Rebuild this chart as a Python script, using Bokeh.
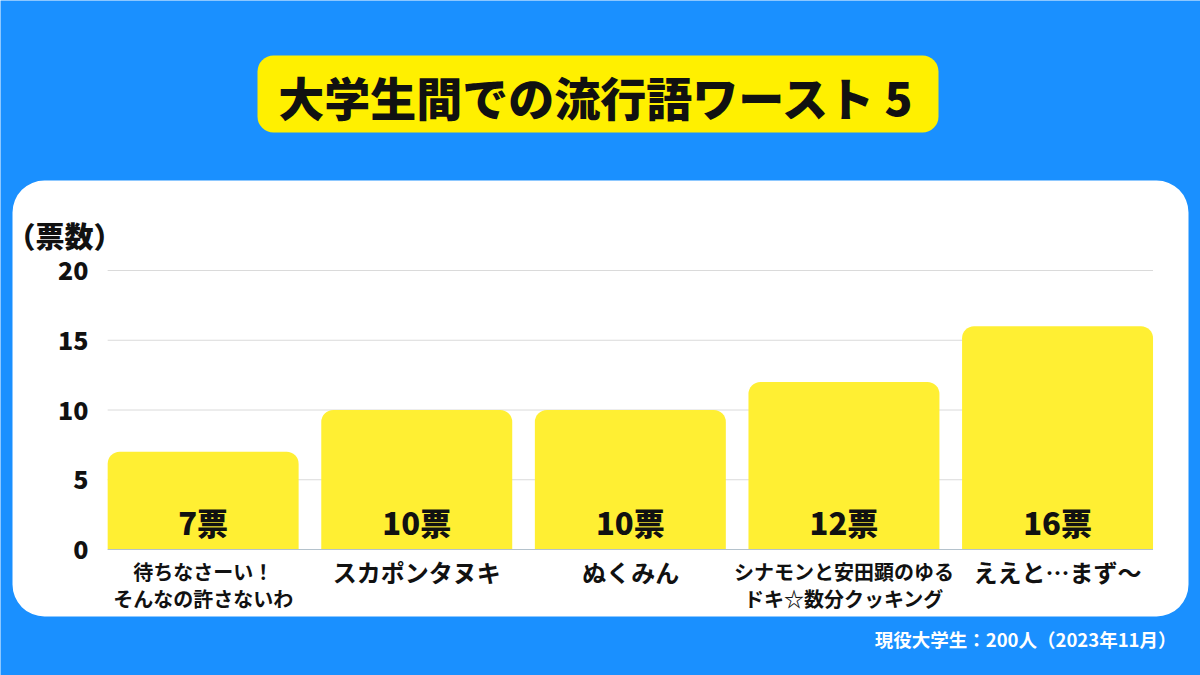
from bokeh.plotting import figure
from bokeh.models import Range1d
from bokeh.core.properties import value
from bokeh.embed import file_html
from bokeh.resources import INLINE

# ---- data ----
categories = ["待ちなさーい！\nそんなの許さないわ", "スカポンタヌキ", "ぬくみん",
              "シナモンと安田顕のゆる\nドキ☆数分クッキング", "ええと…まず〜"]
votes = [7, 10, 10, 12, 16]
vote_labels = [f"{v}票" for v in votes]
y_ticks = [0, 5, 10, 15, 20]
y_tick_labels = [str(t) for t in y_ticks]
title = "大学生間での流行語ワースト 5"
y_title = "（票数）"
footer = "現役大学生：200人（2023年11月）"

# ---- layout (canvas pixels) ----
W, H = 1200, 675
X0 = 202.65   # canvas x of first category center
DX = 213.6    # pixels per category
Y0 = 549.0    # canvas y of value 0
DY = 13.95    # pixels per vote
BAR_W = 0.894

def fx(px):
    return (px - X0) / DX

def fy(py):
    return (Y0 - py) / DY

BLUE = "#1a90ff"
FONT = value("Noto Sans CJK JP")
HEAVY = value("'Noto Sans CJK JP Black', 'Noto Sans CJK JP'")

p = figure(width=W, height=H, output_backend="svg", toolbar_location=None,
           x_range=Range1d(fx(0), fx(W)), y_range=Range1d(fy(H), fy(0)),
           x_axis_type=None, y_axis_type=None, min_border=0,
           background_fill_color=BLUE, border_fill_color=BLUE,
           outline_line_color=None)

# white panel
p.quad(left=[fx(12)], right=[fx(1188)], top=[fy(180)], bottom=[fy(616)],
       fill_color="white", line_color=None, border_radius=32)

# title box
p.quad(left=[fx(257)], right=[fx(938)], top=[fy(55)], bottom=[fy(132)],
       fill_color="#FFF000", line_color=None, border_radius=16)
p.text(x=[fx(596)], y=[fy(95)], text=[title], text_font=HEAVY,
       text_font_style="bold", text_font_size="46px", text_color="#111111",
       text_align="center", text_baseline="middle")

idx = list(range(len(categories)))
left_edge = -BAR_W / 2
right_edge = len(categories) - 1 + BAR_W / 2

# gridlines
grid_vals = [t for t in y_ticks if t != 0]
p.segment(x0=[left_edge] * len(grid_vals), x1=[right_edge] * len(grid_vals),
          y0=grid_vals, y1=grid_vals, line_color="#dadada", line_width=1)

# bars
p.vbar(x=idx, top=votes, bottom=0, width=BAR_W, fill_color="#FFEF33",
       line_color=None, border_radius=(12, 12, 0, 0))

# baseline
p.segment(x0=[left_edge], x1=[right_edge], y0=[0], y1=[0],
          line_color="#b4c2cc", line_width=1)

# y tick labels
p.text(x=[fx(88)] * len(y_ticks), y=y_ticks, text=y_tick_labels, text_font=HEAVY,
       text_font_style="bold", text_font_size="25px", text_color="#111111",
       text_align="right", text_baseline="middle")

# y title
p.text(x=[fx(64)], y=[fy(234)], text=[y_title], text_font=HEAVY,
       text_font_style="bold", text_font_size="29px", text_color="#111111",
       text_align="center", text_baseline="middle")

# value labels inside bars
p.text(x=idx, y=[0] * len(votes), y_offset=-28, text=vote_labels, text_font=HEAVY,
       text_font_style="bold", text_font_size="31px", text_color="#111111",
       text_align="center", text_baseline="middle")

# category labels
one_x = [i for i, c in enumerate(categories) if "\n" not in c]
two_x = [i for i, c in enumerate(categories) if "\n" in c]
p.text(x=one_x, y=[0] * len(one_x), y_offset=4,
       text=[categories[i] for i in one_x], text_font=FONT,
       text_font_style="bold", text_font_size="24px", text_color="#111111",
       text_align="center", text_baseline="top")
p.text(x=two_x, y=[0] * len(two_x), y_offset=7,
       text=[categories[i] for i in two_x], text_font=FONT,
       text_font_style="bold", text_font_size="20px", text_color="#111111",
       text_align="center", text_baseline="top", text_line_height=0.95)

# footer
p.text(x=[fx(1176)], y=[fy(638)], text=[footer], text_font=FONT,
       text_font_style="bold", text_font_size="18.5px", text_color="white",
       text_align="right", text_baseline="middle")

open("out.html", "w").write(file_html(p, INLINE))
